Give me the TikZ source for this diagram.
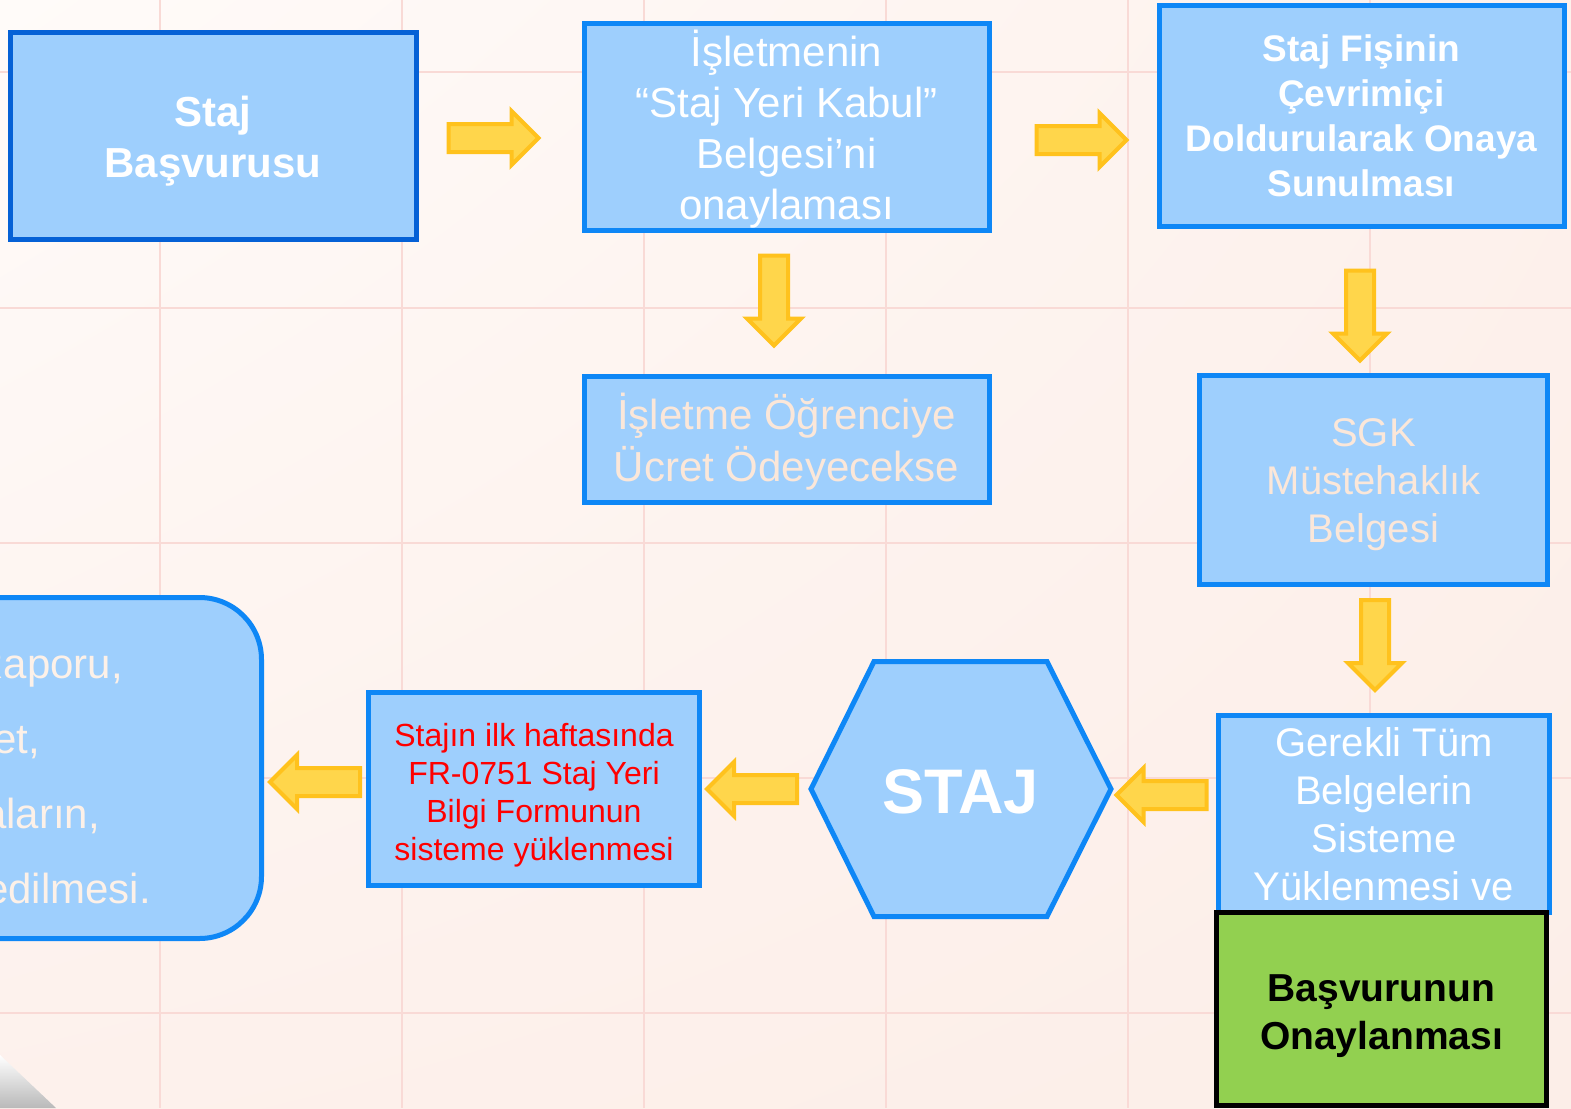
\documentclass[tikz,border=0pt]{standalone}
\usepackage{fontspec}
\setmainfont{Liberation Sans}
\usetikzlibrary{shapes.arrows,calc,shadings}
\definecolor{bgA}{HTML}{FFFBF9}
\definecolor{bgB}{HTML}{FDF1EC}
\definecolor{bgC}{HTML}{FCEEE8}
\definecolor{gridc}{HTML}{F9DAD6}
\definecolor{boxfill}{HTML}{9ECFFD}
\definecolor{boxline}{HTML}{0E87F6}
\definecolor{darkline}{HTML}{0561D6}
\definecolor{arrfill}{HTML}{FFD64B}
\definecolor{arrline}{HTML}{FFC21D}
\definecolor{cream}{HTML}{FBE7D9}
\definecolor{lightcream}{HTML}{FDF1E8}
\definecolor{greenfill}{HTML}{92D050}
\definecolor{redtext}{HTML}{FF0000}
\tikzset{
  gridline/.style={draw=gridc, line width=2pt},
  box/.style={rectangle, draw=boxline, fill=boxfill, line width=5pt, inner sep=0pt},
  txt/.style={inner sep=0pt, align=center, text=white},
  yarr/.style={single arrow, draw=arrline, fill=arrfill, line width=4pt, inner sep=0pt, inner ysep=12pt,
    single arrow head extend=13pt, single arrow tip angle=90, minimum height=90pt, minimum width=50pt},
  lefttxt/.style={anchor=base east, inner sep=0pt, text=lightcream, font=\fontsize{42}{50}\selectfont},
}
\begin{document}
\begin{tikzpicture}[x=1pt,y=-1pt]
\useasboundingbox (0,0) rectangle (1571,1108);
\shade[upper left=bgA, upper right=bgB, lower left=bgB, lower right=bgC] (0,0) rectangle (1571,1108);
\foreach \gx in {160,402,644,886,1128,1370} \draw[gridline] (\gx,0) -- (\gx,1108);
\foreach \gy in {72,308,543,778,1013} \draw[gridline] (0,\gy) -- (1571,\gy);

% boxes
\node[box, draw=darkline, minimum width=406pt, minimum height=207pt] (basvuru) at (213,136) {};
\node[txt, font=\bfseries\fontsize{42}{51}\selectfont] (basvuru-t) at ($(basvuru.center)+(0,5)$) {Staj\\Başvurusu};
\node[box, minimum width=405pt, minimum height=207pt] (kabul) at (786.5,127) {};
\node[txt, font=\fontsize{42}{51}\selectfont] (kabul-t) at ($(kabul.center)+(0,2)$) {İşletmenin\\“Staj Yeri Kabul”\\Belgesi’ni\\onaylaması};
\node[box, minimum width=405pt, minimum height=221pt] (fis) at (1361.5,116) {};
\node[txt, font=\bfseries\fontsize{37}{45}\selectfont] (fis-t) at (fis.center) {Staj Fişinin\\Çevrimiçi\\Doldurularak Onaya\\Sunulması};
\node[box, minimum width=405pt, minimum height=126pt] (ucret) at (786.5,439.5) {};
\node[txt, text=cream, font=\fontsize{42}{52}\selectfont] (ucret-t) at ($(ucret.center)+(0,2)$) {İşletme Öğrenciye\\Ücret Ödeyecekse};
\node[box, minimum width=348pt, minimum height=209pt] (sgk) at (1373.5,480) {};
\node[txt, text=cream, font=\fontsize{40}{48}\selectfont] (sgk-t) at ($(sgk.center)+(0,5)$) {SGK\\Müstehaklık\\Belgesi};
\node[box, minimum width=331pt, minimum height=197pt] (gerekli) at (1384,814) {};
\node[txt, font=\fontsize{40}{48}\selectfont] (gerekli-t) at (gerekli.center) {Gerekli Tüm\\Belgelerin\\Sisteme\\Yüklenmesi ve};
\node[rectangle, draw=black, fill=greenfill, line width=5pt, inner sep=0pt, minimum width=330pt, minimum height=193pt] (onay) at (1381.5,1009) {};
\node[txt, text=black, font=\bfseries\fontsize{39}{48}\selectfont] (onay-t) at ($(onay.center)+(0,7)$) {Başvurunun\\Onaylanması};
\node[box, minimum width=331pt, minimum height=193pt] (form) at (534,789) {};
\node[txt, text=redtext, font=\fontsize{32}{38}\selectfont] (form-t) at ($(form.center)+(0,6)$) {Stajın ilk haftasında\\FR-0751 Staj Yeri\\Bilgi Formunun\\sisteme yüklenmesi};

% hexagon
\draw[draw=boxline, fill=boxfill, line width=5pt, line join=miter] (811,789) -- (874,661.5) -- (1047,661.5) -- (1111,789) -- (1047,916.5) -- (874,916.5) -- cycle;
\node[inner sep=0pt, text=white, font=\bfseries\fontsize{63}{70}\selectfont] (staj) at (960.5,792) {STAJ};

% rounded box on the left
\draw[draw=boxline, fill=boxfill, line width=5pt, rounded corners=62pt] (-120,597.5) rectangle (261.5,938.5);
\coordinate (sonuc) at (261.5,782);
\node[lefttxt] (t1) at (123,678) {Raporu,};
\node[lefttxt] (t2) at (40,753) {et,};
\node[lefttxt] (t3) at (100,828) {aların,};
\node[lefttxt] (t4) at (151,903) {edilmesi.};

% block arrows
\node[yarr] (a1) at (486.5,138) {};
\node[yarr] (a2) at (1074.5,140) {};
\node[yarr, rotate=-90] (a3) at (774,293.5) {};
\node[yarr, rotate=-90] (a4) at (1360,308.5) {};
\node[yarr, rotate=-90] (a5) at (1375,638) {};
\node[yarr, rotate=180] (a6) at (1168.5,795) {};
\node[yarr, rotate=180] (a7) at (759,789) {};
\node[yarr, rotate=180] (a8) at (322,782) {};

% page curl
\shade[top color=white, bottom color=gray!55] (0,1055) -- (56,1108) -- (0,1108) -- cycle;
\end{tikzpicture}
\end{document}
